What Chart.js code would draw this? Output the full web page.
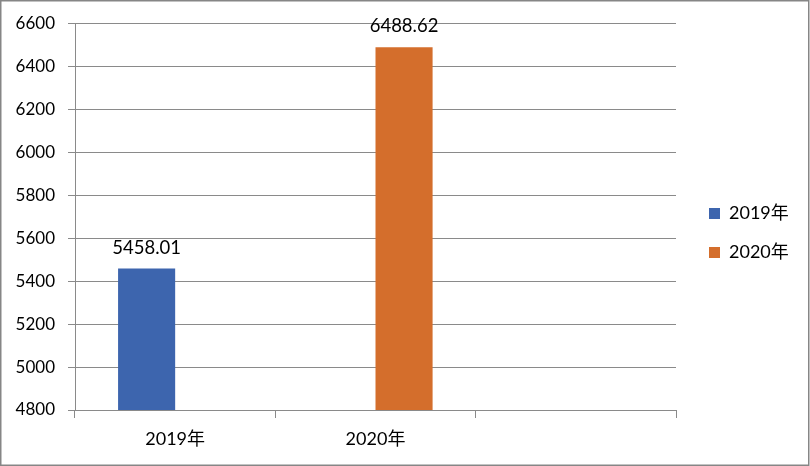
<!DOCTYPE html>
<html lang="zh">
<head>
  <meta charset="UTF-8" />
  <title>2019年 / 2020年</title>
  <script src="https://cdn.jsdelivr.net/npm/chart.js"></script>
  <style>
    html, body { margin: 0; padding: 0; background: #fff; }
    #wrap { width: 810px; height: 466px; }
  </style>
</head>
<body>
  <div id="wrap"><canvas id="chart" width="810" height="466"></canvas></div>

  <script>
    const categories = ['2019年', '2020年', ''];
    const seriesNames = ['2019年', '2020年'];
    const values2019 = [5458.01, null, null];
    const values2020 = [null, 6488.62, null];
    const seriesColors = ['#3D65AE', '#D46E2C'];
    const yMin = 4800;
    const yMax = 6600;
    const yStep = 200;

    const FONT = 'Lato, "Noto Sans CJK SC", sans-serif';
    const GRID = '#8a8a8a';
    const TEXT = '#000';

    // value labels above each bar
    const barValues = {
      id: 'barValues',
      afterDatasetsDraw(chart) {
        const ctx = chart.ctx;
        ctx.save();
        ctx.font = '18.5px ' + FONT;
        ctx.fillStyle = TEXT;
        ctx.textAlign = 'center';
        ctx.textBaseline = 'alphabetic';
        chart.data.datasets.forEach((ds, i) => {
          chart.getDatasetMeta(i).data.forEach((bar, j) => {
            const v = ds.data[j];
            if (v == null) return;
            ctx.fillText(v.toFixed(2), bar.x, bar.y - 15);
          });
        });
        ctx.restore();
      }
    };

    // legend: wider box, items pushed right and centred on the whole height
    const legendGap = {
      id: 'legendGap',
      beforeLayout(chart) {
        const lg = chart.legend;
        if (lg && !lg._patched) {
          const fit = lg.fit;
          lg.fit = function () { fit.call(this); this.width = 134; };
          lg._patched = true;
        }
      },
      afterLayout(chart) {
        chart.legend.left += 12;
        chart.legend.top = 0;
        chart.legend.bottom = 466;
      }
    };

    // outer frame
    const frame = {
      id: 'frame',
      afterDraw(chart) {
        const ctx = chart.ctx;
        ctx.save();
        ctx.strokeStyle = '#868686';
        ctx.lineWidth = 1.5;
        ctx.strokeRect(0.75, 0.75, 808, 464.5);
        ctx.restore();
      }
    };

    new Chart(document.getElementById('chart'), {
      type: 'bar',
      data: {
        labels: categories,
        datasets: [
          { label: seriesNames[0], data: values2019, backgroundColor: seriesColors[0] },
          { label: seriesNames[1], data: values2020, backgroundColor: seriesColors[1] }
        ]
      },
      options: {
        responsive: false,
        animation: false,
        devicePixelRatio: 1,
        categoryPercentage: 0.57,
        barPercentage: 1,
        layout: { padding: { top: 23, left: 0, right: 0, bottom: 0 } },
        plugins: {
          tooltip: { enabled: false },
          legend: {
            position: 'right',
            labels: {
              boxWidth: 11,
              boxHeight: 11,
              padding: 21,
              color: TEXT,
              font: { family: FONT, size: 18 }
            }
          }
        },
        scales: {
          x: {
            afterFit(axis) { axis.height = 56; },
            grid: { drawOnChartArea: false, drawTicks: true, tickLength: 8, color: GRID },
            border: { color: GRID },
            ticks: { color: TEXT, padding: 10, font: { family: FONT, size: 18 }, maxRotation: 0 }
          },
          y: {
            min: yMin,
            max: yMax,
            afterFit(axis) { axis.width = 75; },
            ticks: {
              stepSize: yStep,
              color: TEXT,
              padding: 13,
              font: { family: FONT, size: 17 },
              callback: (v) => String(v)
            },
            grid: { color: GRID, tickLength: 7 },
            border: { color: GRID }
          }
        }
      },
      plugins: [barValues, legendGap, frame]
    });
  </script>
</body>
</html>
